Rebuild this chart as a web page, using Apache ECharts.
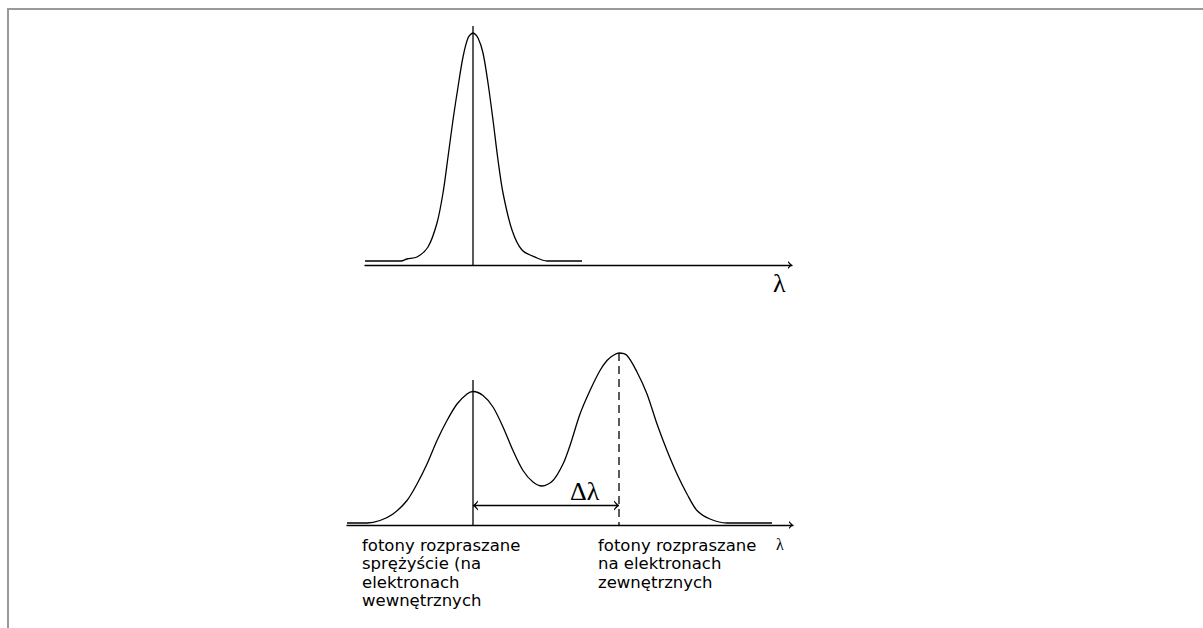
<!DOCTYPE html>
<html>
<head>
<meta charset="utf-8">
<title>Rozpraszanie fotonów</title>
<script src="https://cdn.jsdelivr.net/npm/echarts@6/dist/echarts.min.js"></script>
<style>
  html, body { margin: 0; padding: 0; background: #fff; }
  #chart { width: 1203px; height: 628px; }
</style>
</head>
<body>
<div id="chart"></div>
<script>
// Primary beam: a single narrow line (λ and intensity in arbitrary units)
const incidentLambda    = [18, 54, 60, 70, 81, 90, 96, 101, 106, 111, 116, 121, 126, 131, 136, 141, 146, 151, 156, 165, 175, 190, 200, 235];
const incidentIntensity = [4, 4, 6, 8, 18, 42, 72, 108, 145, 178, 208, 227, 232, 227, 212, 182, 145, 105, 72, 35, 15, 7, 4, 4];

// Scattered beam: unshifted line plus the line shifted by Δλ
const scatteredLambda    = [0, 20, 33, 46, 60, 70, 80, 90, 100, 110, 120, 126, 136, 146, 156, 166, 176, 186, 195, 206,
                            216, 223, 233, 243, 253, 260, 266, 272, 280, 290, 300, 310, 320, 330, 340, 350, 363, 380, 425];
const scatteredIntensity = [2, 2, 4.5, 11, 24.5, 41, 61, 84.5, 104.5, 121, 131, 133.5, 129.5, 118, 98, 74.5, 54.5, 43, 39, 44.5,
                            61, 79.5, 111, 134.5, 154.5, 164.5, 169.5, 172, 169.5, 153, 131, 101, 74.5, 51, 31, 14.5, 6, 2, 2];

// Line positions and marker heights
const unshiftedLambda = 126;
const shiftedLambda = 272;
const incidentMarkerTop = 239;
const unshiftedMarkerTop = 145;
const shiftedMarkerTop = 172;
const shiftArrowLevel = 19.5;

// Axis ranges (λ shared between both panels)
const topLambdaRange = [18, 445];
const bottomLambdaRange = [0, 446];
const intensityRange = [0, 240];

// Captions
const elasticCaption = ['fotony rozpraszane', 'sprężyście (na', 'elektronach', 'wewnętrznych'];
const shiftedCaption = ['fotony rozpraszane', 'na elektronach', 'zewnętrznych'];
const axisTitle = 'λ';
const shiftTitle = 'Δλ';

// Open chevron heads (pointing up, tip at the centre of the bounding box)
const AXIS_HEAD = 'path://M0,4 L4,0 L8,4 L6.6,4 L4,1.9 L1.4,4 Z M4,-4 L4.01,-4 L4,-3.99 Z';
const SHIFT_HEAD = 'path://M0,5 L5,0 L10,5 L8.5,5 L5,2.1 L1.5,5 Z M5,-5 L5.01,-5 L5,-4.99 Z';

const INK = '#000';
const STROKE = 1.3;

const zip = (xs, ys) => xs.map((x, i) => [x, ys[i]]);

const chart = echarts.init(document.getElementById('chart'), null, { renderer: 'svg' });

const lambdaAxis = (gridIndex, range) => ({
  type: 'value',
  gridIndex,
  min: range[0],
  max: range[1],
  axisLine: {
    show: true,
    onZero: false,
    symbol: ['none', AXIS_HEAD],
    symbolSize: [8, 8],
    lineStyle: { color: INK, width: STROKE }
  },
  axisTick: { show: false },
  axisLabel: { show: false },
  splitLine: { show: false }
});

const intensityAxis = (gridIndex) => ({
  type: 'value',
  gridIndex,
  min: intensityRange[0],
  max: intensityRange[1],
  show: false,
  splitLine: { show: false }
});

const curve = (idx, data) => ({
  type: 'line',
  xAxisIndex: idx,
  yAxisIndex: idx,
  data,
  smooth: 0.3,
  symbol: 'none',
  silent: true,
  lineStyle: { color: INK, width: STROKE }
});

const marker = (idx, lambda, top, dashed) => ({
  type: 'line',
  xAxisIndex: idx,
  yAxisIndex: idx,
  data: [[lambda, top], [lambda, 0]],
  symbol: 'none',
  silent: true,
  lineStyle: { color: INK, width: STROKE, type: dashed ? [8, 5] : 'solid' }
});

const textStyle = { fill: INK, font: '16.5px "DejaVu Sans"', lineHeight: 18.4 };

chart.setOption({
  animation: false,
  backgroundColor: '#fff',
  grid: [
    { left: 365, top: 25, width: 427, height: 240 },
    { left: 347, top: 285, width: 446, height: 240 }
  ],
  xAxis: [lambdaAxis(0, topLambdaRange), lambdaAxis(1, bottomLambdaRange)],
  yAxis: [intensityAxis(0), intensityAxis(1)],
  series: [
    curve(0, zip(incidentLambda, incidentIntensity)),
    marker(0, unshiftedLambda, incidentMarkerTop, false),
    curve(1, zip(scatteredLambda, scatteredIntensity)),
    marker(1, unshiftedLambda, unshiftedMarkerTop, false),
    marker(1, shiftedLambda, shiftedMarkerTop, true),
    {
      type: 'line',
      xAxisIndex: 1,
      yAxisIndex: 1,
      silent: true,
      symbol: SHIFT_HEAD,
      symbolSize: 10,
      showSymbol: true,
      itemStyle: { color: INK, borderWidth: 0 },
      lineStyle: { color: INK, width: STROKE },
      data: [
        { value: [unshiftedLambda, shiftArrowLevel], symbolRotate: 90 },
        { value: [shiftedLambda, shiftArrowLevel], symbolRotate: -90 }
      ]
    }
  ],
  graphic: [
    {
      type: 'polyline',
      silent: true,
      shape: { points: [[8, 628], [8, 9], [1203, 9]] },
      style: { stroke: '#999', lineWidth: 2, fill: null }
    },
    {
      type: 'text', left: 773, top: 270, silent: true,
      style: { text: axisTitle, fill: INK, font: '26px "Liberation Serif"' }
    },
    {
      type: 'text', left: 570, top: 478, silent: true,
      style: { text: shiftTitle, fill: INK, font: '26px "Liberation Serif"' }
    },
    {
      type: 'text', left: 776, top: 536, silent: true,
      style: { text: axisTitle, fill: INK, font: '16px "Liberation Serif"' }
    },
    {
      type: 'text', left: 362, top: 536, silent: true,
      style: Object.assign({ text: elasticCaption.join('\n') }, textStyle)
    },
    {
      type: 'text', left: 598, top: 536, silent: true,
      style: Object.assign({ text: shiftedCaption.join('\n') }, textStyle)
    }
  ]
});
</script>
</body>
</html>
